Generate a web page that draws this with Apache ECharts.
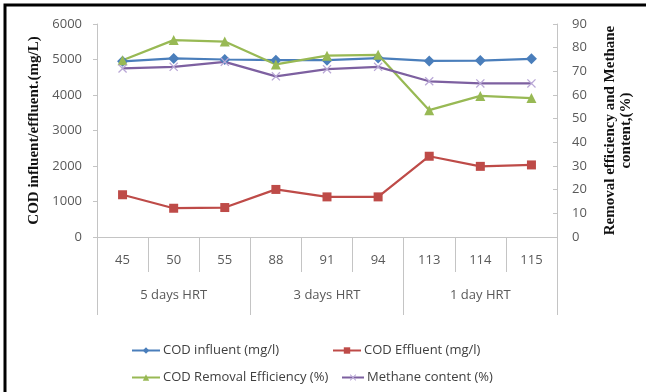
<!DOCTYPE html>
<html>
<head>
<meta charset="utf-8">
<script src="https://cdn.jsdelivr.net/npm/echarts@6/dist/echarts.min.js"></script>
<style>
  html, body { margin: 0; padding: 0; background: #fff; }
  #chart { width: 646px; height: 392px; }
</style>
</head>
<body>
<div id="chart"></div>
<script>
// Days of operation and HRT phases
const days = ['45', '50', '55', '88', '91', '94', '113', '114', '115'];
const phases = ['5 days HRT', '3 days HRT', '1 day HRT'];

// COD concentrations (mg/l), left axis
const codInfluent = [4950, 5030, 5000, 4980, 4980, 5040, 4960, 4970, 5020];
const codEffluent = [1190, 810, 830, 1340, 1130, 1130, 2275, 1990, 2030];

// Percentages, right axis
const removalEfficiency = [74.7, 83.2, 82.6, 72.9, 76.6, 77.0, 53.6, 59.6, 58.7];
const methaneContent = [71.2, 71.9, 74.0, 67.9, 70.9, 71.9, 65.8, 64.9, 64.9];

const leftTicks = { min: 0, max: 6000, interval: 1000 };
const rightTicks = { min: 0, max: 90, interval: 10 };

const crossSymbol = 'path://M0,1L1,0L5,4L9,0L10,1L6,5L10,9L9,10L5,6L1,10L0,9L4,5Z';

const tickFont = { fontFamily: 'Open Sans', fontSize: 13, color: '#595959' };
const titleFont = { fontFamily: 'Liberation Serif', fontWeight: 'bold', fontSize: 15, color: '#111' };
const axisGray = '#c4c4c4';

const chart = echarts.init(document.getElementById('chart'), null, { renderer: 'canvas' });

function legendItem(name, left, top, width) {
  return {
    left: left, top: top,
    data: [name],
    itemWidth: width, itemHeight: 8,
    itemGap: 3,
    selectedMode: false,
    textStyle: { fontFamily: 'Open Sans', fontSize: 13, color: '#404040', padding: [0, 0, 0, -2] }
  };
}

chart.setOption({
  animation: false,
  backgroundColor: '#fff',
  graphic: [{
    type: 'rect',
    shape: { x: 5, y: 5, width: 700, height: 500 },
    style: { fill: 'none', stroke: '#000', lineWidth: 3 },
    silent: true
  }],
  legend: [
    legendItem('COD influent (mg/l)', 126, 339, 28),
    legendItem('COD Effluent (mg/l)', 327, 339, 28),
    legendItem('COD Removal Efficiency (%)', 126, 366, 28),
    legendItem('Methane content (%)', 336, 366, 22)
  ],
  grid: { left: 97, right: 89, top: 24, bottom: 155, containLabel: false },
  xAxis: [{
    type: 'category',
    data: days,
    position: 'bottom',
    boundaryGap: true,
    axisLine: { lineStyle: { color: axisGray, width: 1 } },
    axisTick: { show: true, length: 35, interval: 0, lineStyle: { color: axisGray } },
    axisLabel: Object.assign({ margin: 17, interval: 0 }, tickFont),
    splitLine: { show: false }
  }, {
    type: 'category',
    data: phases,
    position: 'bottom',
    boundaryGap: true,
    axisLine: { show: false },
    axisTick: { show: true, length: 78, interval: 0, lineStyle: { color: axisGray } },
    axisLabel: Object.assign({ margin: 52, interval: 0 }, tickFont),
    splitLine: { show: false }
  }],
  yAxis: [{
    type: 'value',
    position: 'left',
    min: leftTicks.min, max: leftTicks.max, interval: leftTicks.interval,
    name: 'COD influent/effluent.(mg/L)',
    nameLocation: 'middle',
    nameRotate: 90,
    nameGap: 52,
    nameTextStyle: titleFont,
    axisLine: { show: true, lineStyle: { color: axisGray } },
    axisTick: { show: true, length: 4, lineStyle: { color: axisGray } },
    axisLabel: Object.assign({ margin: 15, formatter: v => String(v) }, tickFont),
    splitLine: { show: false }
  }, {
    type: 'value',
    position: 'right',
    min: rightTicks.min, max: rightTicks.max, interval: rightTicks.interval,
    name: 'Removal efficiency and Methane\ncontent,(%)',
    nameLocation: 'middle',
    nameRotate: 90,
    nameGap: 45,
    nameTextStyle: Object.assign({ lineHeight: 16, align: 'center' }, titleFont),
    axisLine: { show: true, lineStyle: { color: axisGray } },
    axisTick: { show: true, inside: true, length: 4, lineStyle: { color: axisGray } },
    axisLabel: Object.assign({ margin: 15 }, tickFont),
    splitLine: { show: false }
  }],
  series: [{
    name: 'COD influent (mg/l)',
    type: 'line',
    yAxisIndex: 0,
    data: codInfluent,
    symbol: 'diamond', symbolSize: 11,
    lineStyle: { color: '#4a7ebb', width: 2.25 },
    itemStyle: { color: '#4a7ebb' }
  }, {
    name: 'COD Effluent (mg/l)',
    type: 'line',
    yAxisIndex: 0,
    data: codEffluent,
    symbol: 'rect', symbolSize: 9,
    lineStyle: { color: '#be4b48', width: 2.25 },
    itemStyle: { color: '#be4b48' }
  }, {
    name: 'COD Removal Efficiency (%)',
    type: 'line',
    yAxisIndex: 1,
    data: removalEfficiency,
    symbol: 'triangle', symbolSize: 10,
    lineStyle: { color: '#98b954', width: 2.25 },
    itemStyle: { color: '#98b954' }
  }, {
    name: 'Methane content (%)',
    type: 'line',
    yAxisIndex: 1,
    data: methaneContent,
    symbol: crossSymbol, symbolSize: 9,
    lineStyle: { color: '#7d60a0', width: 2.25 },
    itemStyle: { color: '#b9a7d6' }
  }]
});
</script>
</body>
</html>
